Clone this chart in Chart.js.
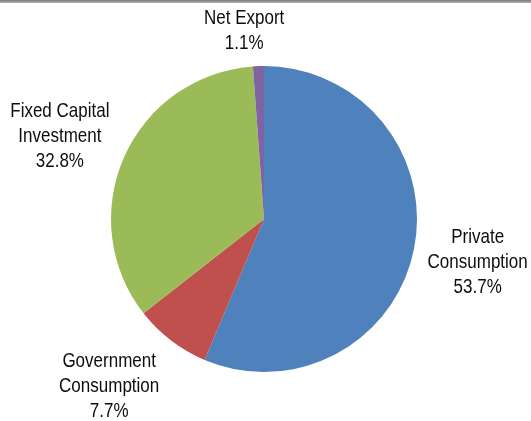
<!DOCTYPE html>
<html>
<head>
<meta charset="utf-8">
<script src="https://cdn.jsdelivr.net/npm/chart.js@4.4.1/dist/chart.umd.min.js"></script>
<style>
  html, body { margin: 0; padding: 0; background: #fff; }
  #wrap { position: relative; width: 531px; height: 421px; }
  #topline { position: absolute; left: 0; top: 0; width: 531px; height: 3px;
    background: linear-gradient(to bottom, #7a7a7a, #b5b5b5); }
</style>
</head>
<body>
<div id="wrap">
  <div id="topline"></div>
  <canvas id="gdpChart" width="531" height="421"></canvas>
</div>
<script>
const categories = [
  ["Private", "Consumption"],
  ["Government", "Consumption"],
  ["Fixed Capital", "Investment"],
  ["Net Export"]
];
const shares = [53.7, 7.7, 32.8, 1.1];
const sliceColors = ["#4F81BD", "#C0504D", "#9BBB59", "#8064A2"];

// distance of each label block from the pie centre, plus a small nudge
const labelDistance = [218, 222, 220, 189];
const labelNudge = [[0, 0], [-20, -9], [-3, 7], [-13, 1]];

const outsideLabels = {
  id: "outsideLabels",
  afterDraw(chart) {
    const ctx = chart.ctx;
    const meta = chart.getDatasetMeta(0);
    ctx.save();
    ctx.fillStyle = "#0d0d0d";
    ctx.textAlign = "center";
    ctx.textBaseline = "middle";
    ctx.font = "17px 'Liberation Sans', Arial, sans-serif";
    meta.data.forEach(function (arc, i) {
      const p = arc.getProps(["x", "y", "startAngle", "endAngle"], true);
      const mid = (p.startAngle + p.endAngle) / 2;
      const cx = p.x + Math.cos(mid) * labelDistance[i] + labelNudge[i][0];
      const cy = p.y + Math.sin(mid) * labelDistance[i] + labelNudge[i][1];
      const lines = categories[i].concat([shares[i].toFixed(1) + "%"]);
      const lineH = 25;
      const top = cy - (lines.length - 1) * lineH / 2;
      lines.forEach(function (t, k) {
        ctx.save();
        ctx.translate(cx, top + k * lineH);
        ctx.scale(1, 1.18);
        ctx.fillText(t, 0, 0);
        ctx.restore();
      });
    });
    ctx.restore();
  }
};

new Chart(document.getElementById("gdpChart"), {
  type: "pie",
  data: {
    labels: categories.map(function (c) { return c.join(" "); }),
    datasets: [{
      data: shares,
      backgroundColor: sliceColors,
      borderWidth: 0
    }]
  },
  options: {
    responsive: false,
    animation: false,
    devicePixelRatio: 1,
    layout: { padding: { top: 64, bottom: 47, left: 111, right: 114 } },
    plugins: {
      legend: { display: false },
      tooltip: { enabled: false }
    }
  },
  plugins: [outsideLabels]
});
</script>
</body>
</html>
